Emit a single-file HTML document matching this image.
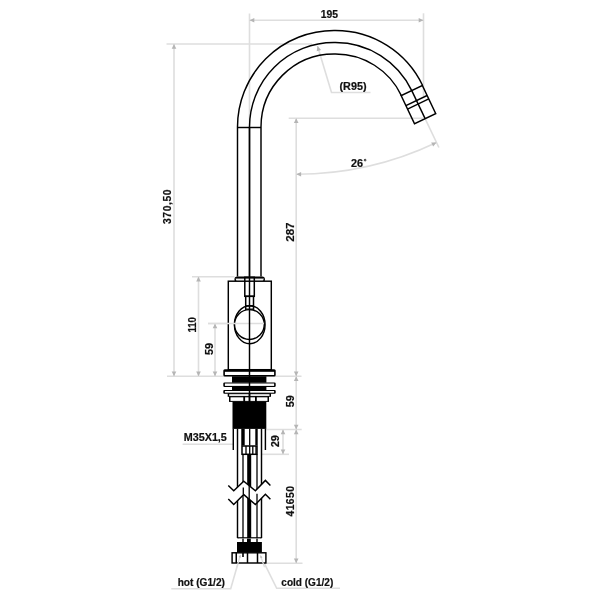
<!DOCTYPE html>
<html><head><meta charset="utf-8"><style>
html,body{margin:0;padding:0;background:#fff;width:600px;height:600px;overflow:hidden}
svg{display:block;transform:translateZ(0);will-change:transform}
text{font-family:"Liberation Sans",sans-serif;font-weight:bold;font-size:10.3px;fill:#111;stroke:#111;stroke-width:0.2px}
</style></head><body>
<svg width="600" height="600" viewBox="0 0 600 600">
<rect width="600" height="600" fill="#fff"/>
<line x1="249.50" y1="13.50" x2="249.50" y2="127.00" stroke="#dedede" stroke-width="1.6"/>
<line x1="423.50" y1="13.30" x2="423.50" y2="96.00" stroke="#dedede" stroke-width="1.6"/>
<line x1="249.50" y1="20.20" x2="423.50" y2="20.20" stroke="#dedede" stroke-width="1.6"/>
<polygon points="249.50,20.20 254.30,17.90 254.30,22.50" fill="#b5b5b5"/>
<polygon points="423.50,20.20 418.70,22.50 418.70,17.90" fill="#b5b5b5"/>
<line x1="166.50" y1="44.00" x2="312.00" y2="44.00" stroke="#dedede" stroke-width="1.6"/>
<line x1="167.00" y1="376.20" x2="301.50" y2="376.20" stroke="#dedede" stroke-width="1.6"/>
<line x1="174.00" y1="44.00" x2="174.00" y2="376.20" stroke="#dedede" stroke-width="1.6"/>
<polygon points="174.00,44.00 176.30,48.80 171.70,48.80" fill="#b5b5b5"/>
<polygon points="174.00,376.20 171.70,371.40 176.30,371.40" fill="#b5b5b5"/>
<line x1="192.00" y1="276.70" x2="234.50" y2="276.70" stroke="#dedede" stroke-width="1.6"/>
<line x1="198.50" y1="276.70" x2="198.50" y2="376.20" stroke="#dedede" stroke-width="1.6"/>
<polygon points="198.50,276.70 200.80,281.50 196.20,281.50" fill="#b5b5b5"/>
<polygon points="198.50,376.20 196.20,371.40 200.80,371.40" fill="#b5b5b5"/>
<line x1="208.00" y1="323.50" x2="264.00" y2="323.50" stroke="#dedede" stroke-width="1.6"/>
<line x1="215.00" y1="323.50" x2="215.00" y2="376.20" stroke="#dedede" stroke-width="1.6"/>
<polygon points="215.00,323.50 217.30,328.30 212.70,328.30" fill="#b5b5b5"/>
<polygon points="215.00,376.20 212.70,371.40 217.30,371.40" fill="#b5b5b5"/>
<line x1="288.70" y1="118.30" x2="423.00" y2="118.30" stroke="#dedede" stroke-width="1.6"/>
<line x1="296.20" y1="118.30" x2="296.20" y2="376.20" stroke="#dedede" stroke-width="1.6"/>
<polygon points="296.20,118.30 298.50,123.10 293.90,123.10" fill="#b5b5b5"/>
<polygon points="296.20,376.20 293.90,371.40 298.50,371.40" fill="#b5b5b5"/>
<line x1="266.00" y1="429.50" x2="301.70" y2="429.50" stroke="#dedede" stroke-width="1.6"/>
<line x1="296.20" y1="376.20" x2="296.20" y2="429.50" stroke="#dedede" stroke-width="1.6"/>
<polygon points="296.20,376.20 298.50,381.00 293.90,381.00" fill="#b5b5b5"/>
<polygon points="296.20,429.50 293.90,424.70 298.50,424.70" fill="#b5b5b5"/>
<line x1="262.00" y1="454.30" x2="289.00" y2="454.30" stroke="#dedede" stroke-width="1.6"/>
<line x1="283.00" y1="429.50" x2="283.00" y2="454.30" stroke="#dedede" stroke-width="1.6"/>
<polygon points="283.00,429.50 285.30,434.30 280.70,434.30" fill="#b5b5b5"/>
<polygon points="283.00,454.30 280.70,449.50 285.30,449.50" fill="#b5b5b5"/>
<line x1="266.70" y1="563.30" x2="302.50" y2="563.30" stroke="#dedede" stroke-width="1.6"/>
<line x1="296.20" y1="429.50" x2="296.20" y2="563.30" stroke="#dedede" stroke-width="1.6"/>
<polygon points="296.20,429.50 298.50,434.30 293.90,434.30" fill="#b5b5b5"/>
<polygon points="296.20,563.30 293.90,558.50 298.50,558.50" fill="#b5b5b5"/>
<line x1="425.11" y1="118.60" x2="438.89" y2="147.48" stroke="#dedede" stroke-width="1.6"/>
<path d="M296.30,174.20 A325.66,325.66 0 0 0 436.50,142.48" fill="none" stroke="#dedede" stroke-width="1.6"/>
<polygon points="296.30,174.20 301.10,171.90 301.10,176.50" fill="#b5b5b5"/>
<polygon points="436.50,142.48 433.16,146.62 431.18,142.47" fill="#b5b5b5"/>
<polyline points="317.5,46 331.5,92.5 370.5,92.5" fill="none" stroke="#dedede" stroke-width="1.6"/>
<polygon points="317.50,46.00 321.09,49.93 316.68,51.26" fill="#b5b5b5"/>
<line x1="182.60" y1="444.30" x2="233.50" y2="444.30" stroke="#dedede" stroke-width="1.6"/>
<polyline points="171.3,588.7 230.7,588.7 240.4,555" fill="none" stroke="#dedede" stroke-width="1.6"/>
<polyline points="340,588.3 276.7,588.3 260.4,555.4" fill="none" stroke="#dedede" stroke-width="1.6"/>
<path d="M237.50,276.5 L237.50,127.00 A96.5,96.5 0 0 1 334.00,30.50 L335.50,30.50 A96.5,96.5 0 0 1 422.60,85.46" fill="none" stroke="#000" stroke-width="1.45"/>
<path d="M249.50,276.5 L249.50,127.00 A84.5,84.5 0 0 1 334.00,42.50 L335.50,42.50 A84.5,84.5 0 0 1 411.77,90.62" fill="none" stroke="#000" stroke-width="1.45"/>
<path d="M261.00,276.5 L261.00,127.00 A73.0,73.0 0 0 1 334.00,54.00 L335.50,54.00 A73.0,73.0 0 0 1 401.39,95.57" fill="none" stroke="#000" stroke-width="1.45"/>
<line x1="237.50" y1="127.50" x2="261.00" y2="127.50" stroke="#000" stroke-width="1.45"/>
<g transform="translate(411.77,90.62) rotate(-25.5)" fill="none" stroke="#000" stroke-width="1.45"><rect x="-11.75" y="0" width="23.5" height="31"/><line x1="-11.75" y1="11" x2="11.75" y2="11"/><line x1="-11.75" y1="14.8" x2="11.75" y2="14.8"/><line x1="0" y1="0" x2="0" y2="31"/></g>
<rect x="235.2" y="277.3" width="29" height="4.5" rx="2" fill="#fff" stroke="#000" stroke-width="1.45"/>
<line x1="235.50" y1="278.60" x2="264.00" y2="278.60" stroke="#555" stroke-width="1.0"/>
<rect x="228.3" y="281.2" width="43" height="88.5" fill="#fff" stroke="#000" stroke-width="1.45"/>
<rect x="244.8" y="277.3" width="9.5" height="19" fill="none" stroke="#000" stroke-width="1.5"/>
<rect x="245.7" y="296.3" width="7.8" height="13" fill="none" stroke="#000" stroke-width="1.5"/>
<line x1="245.70" y1="305.90" x2="253.50" y2="305.90" stroke="#000" stroke-width="1.4"/>
<ellipse cx="249.75" cy="324.65" rx="15.3" ry="19.0" fill="none" stroke="#000" stroke-width="1.45"/>
<circle cx="249.4" cy="324.5" r="14.9" fill="#fff" stroke="#000" stroke-width="1.45"/>
<line x1="208.00" y1="323.50" x2="264.00" y2="323.50" stroke="#dedede" stroke-width="1.6"/>
<rect x="223.30" y="369.30" width="52.40" height="7.30" rx="1.5" fill="#000"/>
<rect x="224.90" y="371.80" width="49.20" height="3.20" fill="#fff"/>
<rect x="232.00" y="376.30" width="34.40" height="6.40" rx="0" fill="#000"/>
<rect x="223.30" y="382.50" width="52.40" height="4.40" rx="1.2" fill="#000"/>
<rect x="224.90" y="383.50" width="49.20" height="2.40" fill="#fff"/>
<rect x="232.00" y="386.70" width="34.40" height="3.50" rx="0" fill="#000"/>
<rect x="223.30" y="390.00" width="52.40" height="3.80" rx="1.0" fill="#000"/>
<rect x="224.90" y="391.00" width="49.20" height="1.70" fill="#fff"/>
<rect x="227.70" y="393.30" width="43.30" height="3.50" rx="0" fill="#000"/>
<rect x="229.20" y="394.20" width="40.30" height="1.70" fill="#fff"/>
<rect x="229.00" y="396.30" width="40.00" height="5.60" rx="0" fill="#000"/>
<rect x="230.50" y="397.30" width="37.00" height="3.60" fill="#fff"/>
<rect x="243.30" y="396.30" width="1.80" height="5.60" rx="0" fill="#000"/>
<rect x="255.00" y="396.30" width="1.80" height="5.60" rx="0" fill="#000"/>
<rect x="248.70" y="393.50" width="1.60" height="8.40" rx="0" fill="#000"/>
<rect x="232.50" y="401.70" width="33.80" height="27.20" rx="0" fill="#000"/>
<line x1="249.50" y1="127.00" x2="249.50" y2="401.50" stroke="#000" stroke-width="1.45"/>
<line x1="233.30" y1="428.80" x2="233.30" y2="450.00" stroke="#000" stroke-width="1.45"/>
<line x1="265.40" y1="428.80" x2="265.40" y2="450.00" stroke="#000" stroke-width="1.45"/>
<line x1="242.10" y1="428.80" x2="242.10" y2="445.40" stroke="#000" stroke-width="1.3"/>
<line x1="249.70" y1="428.80" x2="249.70" y2="445.40" stroke="#000" stroke-width="1.3"/>
<rect x="241.60" y="428.80" width="3.10" height="16.60" rx="0" fill="#000"/>
<rect x="255.30" y="428.80" width="2.40" height="16.60" rx="0" fill="#000"/>
<line x1="237.50" y1="428.80" x2="237.50" y2="538.00" stroke="#000" stroke-width="1.45"/>
<line x1="261.50" y1="428.80" x2="261.50" y2="538.00" stroke="#000" stroke-width="1.45"/>
<line x1="243.00" y1="454.60" x2="243.00" y2="538.00" stroke="#000" stroke-width="1.3"/>
<line x1="257.00" y1="454.60" x2="257.00" y2="538.00" stroke="#000" stroke-width="1.3"/>
<rect x="247.20" y="454.60" width="4.00" height="83.40" rx="0" fill="#000"/>
<rect x="242.0" y="446.0" width="15" height="8.3" fill="#fff" stroke="#000" stroke-width="1.5"/>
<line x1="246.00" y1="446.00" x2="246.00" y2="454.30" stroke="#000" stroke-width="1.3"/>
<line x1="249.70" y1="446.00" x2="249.70" y2="454.30" stroke="#000" stroke-width="1.3"/>
<line x1="252.80" y1="446.00" x2="252.80" y2="454.30" stroke="#000" stroke-width="1.3"/>
<line x1="256.00" y1="446.00" x2="256.00" y2="454.30" stroke="#000" stroke-width="1.3"/>
<polygon points="228.3,485.4 233.75,490.8 243.75,481.25 255.4,490.8 265.4,480.4 270.4,485.4 270.4,499.2 265.4,494.2 255.4,504.5 243.75,494.6 233.75,504.5 228.3,499" fill="#fff"/>
<polyline points="228.3,485.4 233.75,490.8 243.75,481.25 255.4,490.8 265.4,480.4 270.4,485.4" fill="none" stroke="#000" stroke-width="1.45"/>
<polyline points="228.3,499 233.75,504.5 243.75,494.6 255.4,504.5 265.4,494.2 270.4,499.2" fill="none" stroke="#000" stroke-width="1.45"/>
<line x1="243.30" y1="487.50" x2="243.30" y2="494.60" stroke="#000" stroke-width="1.3"/>
<line x1="249.20" y1="486.00" x2="249.20" y2="499.00" stroke="#000" stroke-width="1.3"/>
<line x1="257.00" y1="493.75" x2="257.00" y2="502.80" stroke="#000" stroke-width="1.3"/>
<line x1="237.50" y1="537.90" x2="261.50" y2="537.90" stroke="#000" stroke-width="1.4"/>
<rect x="238.40" y="538.60" width="22.20" height="3.40" fill="#fff"/>
<rect x="242.30" y="538.60" width="1.40" height="3.40" rx="0" fill="#000"/>
<rect x="247.00" y="538.60" width="3.80" height="3.40" rx="0" fill="#000"/>
<rect x="256.30" y="538.60" width="1.40" height="3.40" rx="0" fill="#000"/>
<rect x="237.00" y="542.00" width="24.90" height="10.50" rx="0" fill="#000"/>
<rect x="232.1" y="552.8" width="33.8" height="10.2" fill="#fff" stroke="#000" stroke-width="1.45"/>
<line x1="236.25" y1="552.80" x2="236.25" y2="563.00" stroke="#000" stroke-width="1.5"/>
<line x1="247.50" y1="552.80" x2="247.50" y2="563.00" stroke="#000" stroke-width="1.5"/>
<line x1="257.50" y1="552.80" x2="257.50" y2="563.00" stroke="#000" stroke-width="1.5"/>
<line x1="243.00" y1="552.80" x2="243.00" y2="557.00" stroke="#000" stroke-width="1.6"/>
<line x1="236.90" y1="567.20" x2="240.40" y2="555.00" stroke="#dedede" stroke-width="1.2"/>
<line x1="264.50" y1="567.20" x2="260.40" y2="555.40" stroke="#dedede" stroke-width="1.2"/>
<polygon points="240.40,555.00 240.77,557.71 238.65,557.10" fill="#b5b5b5"/>
<polygon points="260.40,555.40 262.50,557.15 260.52,558.13" fill="#b5b5b5"/>
<text x="320.70" y="17.70" textLength="17.30" lengthAdjust="spacingAndGlyphs">195</text>
<text x="339.50" y="90.00" textLength="27.00" lengthAdjust="spacingAndGlyphs">(R95)</text>
<text x="351.00" y="166.70" textLength="12.10" lengthAdjust="spacingAndGlyphs">26</text>
<circle cx="365.1" cy="160.1" r="0.85" fill="none" stroke="#111" stroke-width="0.9"/>
<text transform="translate(171.00,224.00) rotate(-90)" textLength="34.50" lengthAdjust="spacing">370,50</text>
<text transform="translate(294.20,241.80) rotate(-90)" textLength="19.30" lengthAdjust="spacingAndGlyphs">287</text>
<text transform="translate(196.25,332.50) rotate(-90)" textLength="15.40" lengthAdjust="spacingAndGlyphs">110</text>
<text transform="translate(212.90,355.00) rotate(-90)" textLength="12.10" lengthAdjust="spacingAndGlyphs">59</text>
<text transform="translate(294.00,407.30) rotate(-90)" textLength="12.00" lengthAdjust="spacingAndGlyphs">59</text>
<text x="183.75" y="441.30" textLength="43.10" lengthAdjust="spacingAndGlyphs">M35X1,5</text>
<text transform="translate(279.00,447.30) rotate(-90)" textLength="12.30" lengthAdjust="spacingAndGlyphs">29</text>
<text transform="translate(293.50,516.50) rotate(-90)" textLength="30.50" lengthAdjust="spacing">41650</text>
<text x="177.70" y="586.00" textLength="47.20" lengthAdjust="spacingAndGlyphs">hot (G1/2)</text>
<text x="281.30" y="585.80" textLength="52.00" lengthAdjust="spacingAndGlyphs">cold (G1/2)</text>
</svg></body></html>
